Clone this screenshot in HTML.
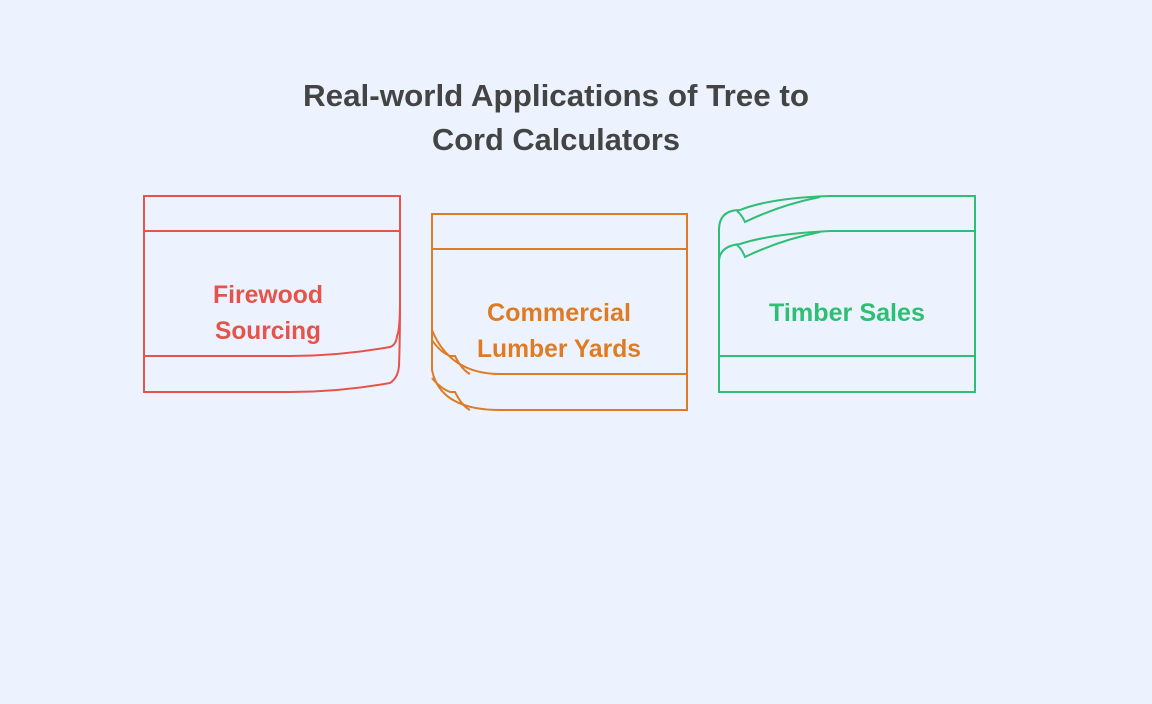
<!DOCTYPE html>
<html><head><style>
html,body{margin:0;padding:0;background:#EDF3FE;width:1152px;height:704px;overflow:hidden}
text{font-family:"Liberation Sans",sans-serif;font-weight:bold}
</style></head><body>
<svg width="1152" height="704" xmlns="http://www.w3.org/2000/svg">
<rect width="1152" height="704" fill="#EDF3FE"/>
<text x="556" y="106" text-anchor="middle" font-size="31" fill="#444" textLength="506" lengthAdjust="spacingAndGlyphs">Real-world Applications of Tree to</text>
<text x="556" y="150" text-anchor="middle" font-size="31" fill="#444" textLength="248" lengthAdjust="spacingAndGlyphs">Cord Calculators</text>
<g fill="none" stroke="#E5534B" stroke-width="2">
<path d="M144,196 H400 V300 Q400,330 397,336 Q396,345 390,347 Q340,356 290,356 H144 Z"/>
<path d="M144,231 H400"/>
<path d="M144,356 V392 H290 Q340,392 390,383 Q398,378 399,366 Q400,340 400,300"/>
</g>
<text x="268" y="303" text-anchor="middle" font-size="25" fill="#E5534B" textLength="110" lengthAdjust="spacingAndGlyphs">Firewood</text>
<text x="268" y="339" text-anchor="middle" font-size="25" fill="#E5534B" textLength="106" lengthAdjust="spacingAndGlyphs">Sourcing</text>
<g fill="none" stroke="#DE7C26" stroke-width="2">
<path d="M432,214 H687 V410 H500 Q440,410 432,370 Z"/>
<path d="M432,249 H687"/>
<path d="M687,374 H500 Q450,374 432,330"/>
<path d="M432,340 Q440,352 450,356 L455,356 Q462,370 470,374"/>
<path d="M432,378 Q440,388 450,392 L455,392 Q462,406 470,410"/>
</g>
<text x="559" y="321" text-anchor="middle" font-size="25" fill="#DE7C26" textLength="144" lengthAdjust="spacingAndGlyphs">Commercial</text>
<text x="559" y="357" text-anchor="middle" font-size="25" fill="#DE7C26" textLength="164" lengthAdjust="spacingAndGlyphs">Lumber Yards</text>
<g fill="none" stroke="#2EBF74" stroke-width="2">
<path d="M719,392 V230 Q719,210 740,210 Q770,198 830,196 H975 V392 Z"/>
<path d="M830,231 H975"/>
<path d="M719,356 H975"/>
<path d="M719,262 Q719,246 740,244 Q770,234 830,231"/>
<path d="M737,211 Q742,215 745,222 Q780,205 820,197"/>
<path d="M737,245 Q742,249 745,257 Q780,240 820,232"/>
</g>
<text x="847" y="321" text-anchor="middle" font-size="25" fill="#2EBF74" textLength="156" lengthAdjust="spacingAndGlyphs">Timber Sales</text>
</svg>
</body></html>
